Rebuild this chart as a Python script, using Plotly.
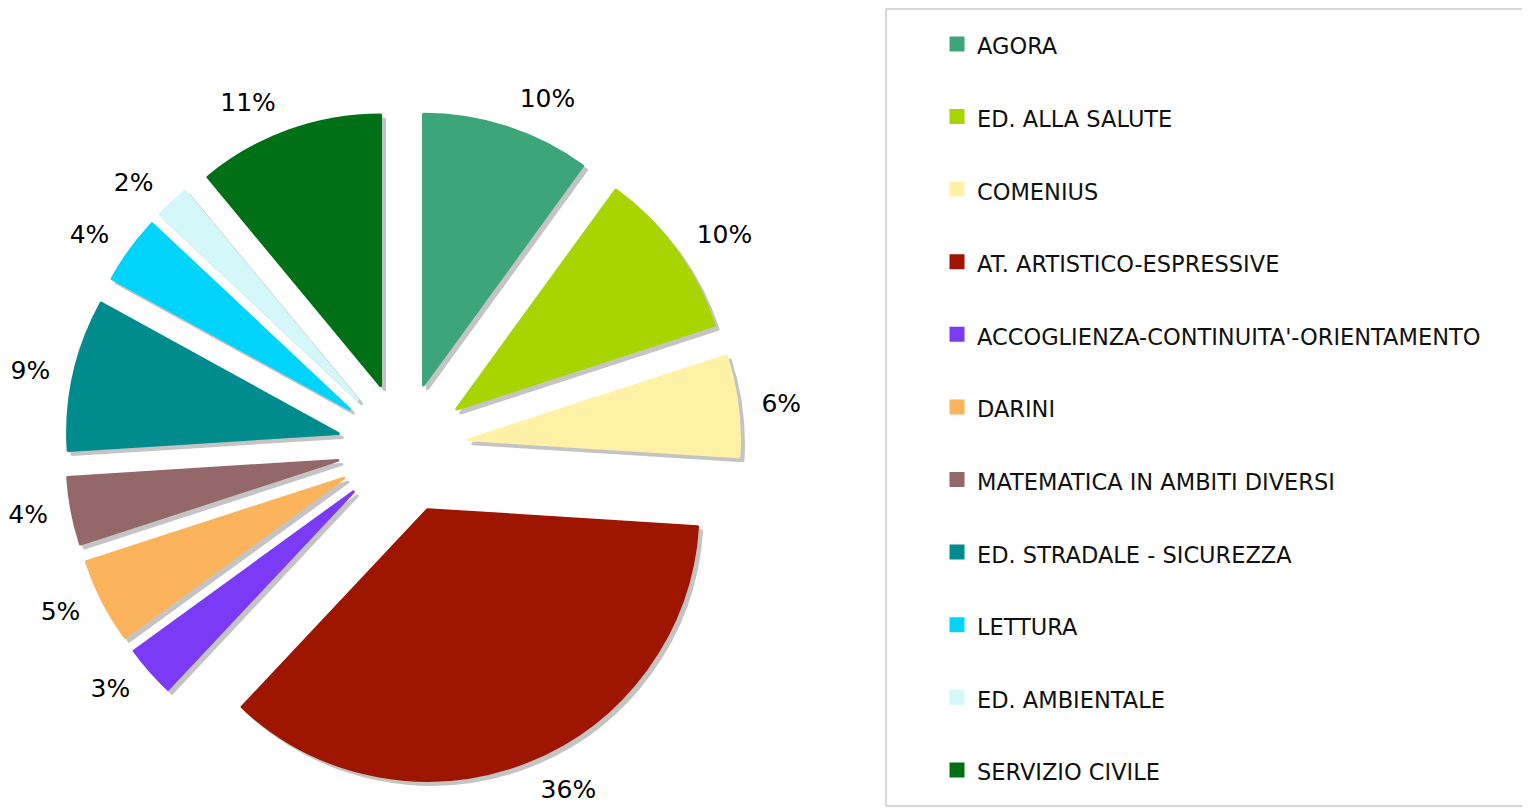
import plotly.graph_objects as go

labels = ['AGORA', 'ED. ALLA SALUTE', 'COMENIUS', 'AT. ARTISTICO-ESPRESSIVE',
          "ACCOGLIENZA-CONTINUITA'-ORIENTAMENTO", 'DARINI', 'MATEMATICA IN AMBITI DIVERSI',
          'ED. STRADALE - SICUREZZA', 'LETTURA', 'ED. AMBIENTALE', 'SERVIZIO CIVILE']
values = [10, 10, 6, 36, 3, 5, 4, 9, 4, 2, 11]
colors = ['#3da57a', '#a8d400', '#fff2a6', '#9e1500', '#7b3af5', '#fbb35c',
          '#946868', '#008b8d', '#00d4fb', '#d4f7fa', '#007016']

# page body adds an 8px margin, so the figure is made 8px smaller
W, H = 1522, 801
pull = 0.245


def dom(cx, cy, half, dx=0, dy=0):
    # square domain around a pixel centre (figure coords, y from top)
    return dict(x=[(cx - half + dx) / W, (cx + half + dx) / W],
                y=[(H - (cy + half + dy)) / H, (H - (cy - half + dy)) / H])


cx, cy = 395, 440

# legend names: label line plus an empty line to space the entries out
names = ["<span style='font-size:22.5px'>%s</span><br> " % l for l in labels[:-1]]
names.append("<span style='font-size:22.5px'>%s</span>" % labels[-1])

fig = go.Figure()

# shadow pie, offset down-right
fig.add_trace(go.Pie(
    labels=names, values=values, sort=False, direction='clockwise', rotation=0,
    pull=pull, marker=dict(colors=['#c4c4c4'] * len(values), line=dict(color='#c4c4c4', width=3)),
    textinfo='none', hoverinfo='skip', showlegend=False,
    domain=dom(cx, cy, 337, 4, 4),
))

fig.add_trace(go.Pie(
    labels=names, values=values, sort=False, direction='clockwise', rotation=0,
    pull=pull, marker=dict(colors=colors, line=dict(color=colors, width=3)),
    textinfo='none',
    hovertext=labels, hoverinfo='text+percent',
    domain=dom(cx, cy, 337),
))

# transparent copy, a bit larger, that only carries the percent labels
fig.add_trace(go.Pie(
    labels=names, values=values, sort=False, direction='clockwise', rotation=0,
    pull=pull, marker=dict(colors=['rgba(0,0,0,0)'] * len(values), line=dict(width=0)),
    textinfo='percent', textposition='outside',
    textfont=dict(family='DejaVu Sans', size=25, color='black'),
    hoverinfo='skip', showlegend=False,
    domain=dom(cx, cy, 354),
))

fig.add_shape(type='rect', xref='paper', yref='paper',
              x0=878 / W, x1=1.02, y0=3 / H, y1=1 - 1 / H,
              line=dict(color='#b0b0b0', width=1), fillcolor='rgba(0,0,0,0)')

fig.update_layout(
    width=W, height=H, margin=dict(l=0, r=0, t=0, b=0, autoexpand=False),
    paper_bgcolor='white', plot_bgcolor='white',
    font=dict(family='DejaVu Sans', color='black'),
    legend=dict(x=929 / W, xanchor='left', y=1 - 12 / H, yanchor='top',
                font=dict(family='DejaVu Sans', size=26.77, color='#111111'),
                valign='top', bgcolor='rgba(0,0,0,0)', borderwidth=0,
                traceorder='normal'),
)

fig.write_html("out.html")
